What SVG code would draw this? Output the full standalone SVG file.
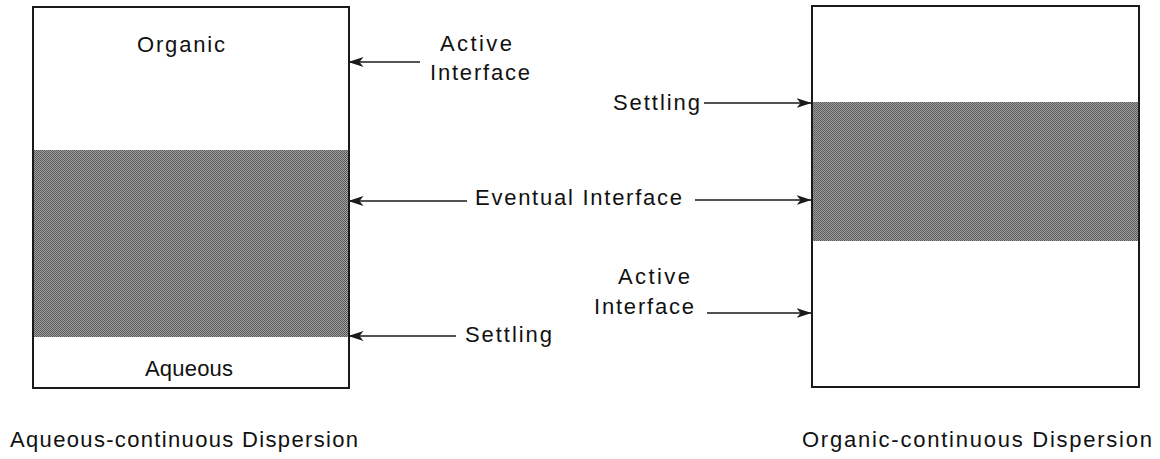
<svg xmlns="http://www.w3.org/2000/svg" width="1160" height="459" viewBox="0 0 1160 459">
<style>
text{font-family:"Liberation Sans","DejaVu Sans",sans-serif;font-size:22px;fill:#111;}
.box{fill:none;stroke:#1a1a1a;stroke-width:2;}
.band{fill:url(#stip);stroke:none;}
.conn{stroke:#1a1a1a;stroke-width:1.4;fill:none;marker-end:url(#ah);}
</style>
<defs>
<pattern id="stip" width="2" height="2" patternUnits="userSpaceOnUse">
<rect width="2" height="2" fill="#a0a0a0"/>
<rect width="1" height="1" fill="#555"/>
<rect x="1" y="1" width="1" height="1" fill="#606060"/>
</pattern>
<marker id="ah" viewBox="0 0 15 11" refX="14.5" refY="5.5" markerWidth="15" markerHeight="11" markerUnits="userSpaceOnUse" orient="auto">
<path d="M0,0.5 L15,5.5 L0,10.5 L4,5.5 Z" fill="#1a1a1a"/>
</marker>
</defs>
<g id="left-box">
<rect class="band" x="33" y="150" width="316" height="187"/>
<rect class="box" x="33" y="7" width="316" height="381"/>
<text x="137" y="52" textLength="88" lengthAdjust="spacing">Organic</text>
<text x="145" y="376" textLength="88" lengthAdjust="spacing">Aqueous</text>
<text x="10" y="447" textLength="348" lengthAdjust="spacing">Aqueous-continuous  Dispersion</text>
</g>
<g id="right-box">
<rect class="band" x="812" y="102" width="327" height="139"/>
<rect class="box" x="812" y="6" width="327" height="381"/>
<text x="802" y="447" textLength="350" lengthAdjust="spacing">Organic-continuous  Dispersion</text>
</g>
<g id="labels">
<text x="440" y="51" textLength="72" lengthAdjust="spacing">Active</text>
<text x="430" y="80" textLength="100" lengthAdjust="spacing">Interface</text>
<text x="475" y="205" textLength="207" lengthAdjust="spacing">Eventual  Interface</text>
<text x="465" y="342" textLength="87" lengthAdjust="spacing">Settling</text>
<text x="613" y="110" textLength="87" lengthAdjust="spacing">Settling</text>
<text x="618" y="284" textLength="72" lengthAdjust="spacing">Active</text>
<text x="594" y="314" textLength="100" lengthAdjust="spacing">Interface</text>
</g>
<g id="connectors">
<line class="conn" x1="420" y1="62" x2="349" y2="62"/>
<line class="conn" x1="467" y1="201" x2="349" y2="201"/>
<line class="conn" x1="695" y1="200" x2="811" y2="200"/>
<line class="conn" x1="456" y1="336" x2="349" y2="336"/>
<line class="conn" x1="704" y1="103" x2="811" y2="103"/>
<line class="conn" x1="707" y1="313" x2="811" y2="313"/>
</g>
</svg>
